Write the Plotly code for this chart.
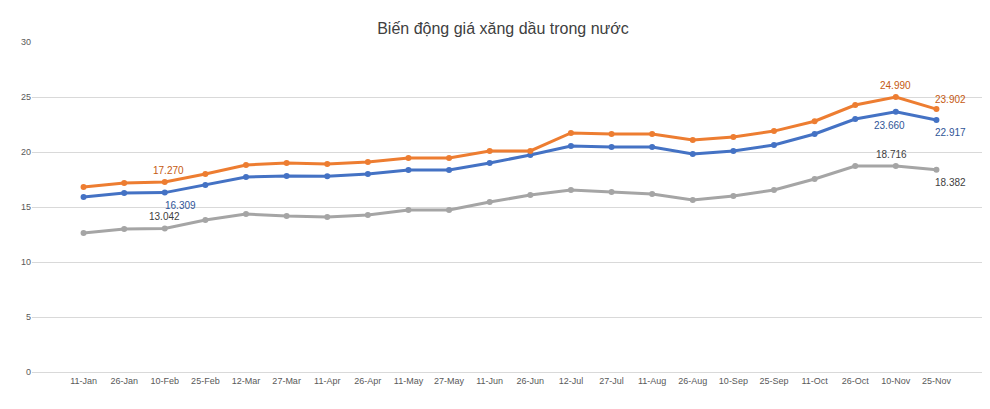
import plotly.graph_objects as go

dates = ["11-Jan", "26-Jan", "10-Feb", "25-Feb", "12-Mar", "27-Mar", "11-Apr", "26-Apr",
         "11-May", "27-May", "11-Jun", "26-Jun", "12-Jul", "27-Jul", "11-Aug", "26-Aug",
         "10-Sep", "25-Sep", "11-Oct", "26-Oct", "10-Nov", "25-Nov"]
e5ron92 = [15.90, 16.27, 16.309, 17.00, 17.73, 17.82, 17.80, 18.00, 18.36, 18.36, 19.00, 19.73,
           20.55, 20.45, 20.45, 19.82, 20.10, 20.64, 21.64, 23.00, 23.660, 22.917]
ron95 = [16.82, 17.18, 17.270, 18.00, 18.82, 19.00, 18.90, 19.10, 19.45, 19.45, 20.10, 20.10,
         21.73, 21.64, 21.64, 21.10, 21.36, 21.90, 22.80, 24.27, 24.990, 23.902]
diesel = [12.64, 13.00, 13.042, 13.82, 14.36, 14.18, 14.09, 14.27, 14.73, 14.73, 15.45, 16.09,
          16.55, 16.36, 16.18, 15.64, 16.00, 16.55, 17.55, 18.73, 18.716, 18.382]

# nhan so lieu: (series, index, xshift, yshift)
labels = [(e5ron92, 2, 16, -13, "#2F5597"), (ron95, 2, 4, 12, "#C55A11"), (diesel, 2, 0, 12, "#404040"),
          (e5ron92, 20, -6, -14, "#2F5597"), (ron95, 20, 0, 12, "#C55A11"), (diesel, 20, -4, 12, "#404040"),
          (e5ron92, 21, 14, -13, "#2F5597"), (ron95, 21, 14, 10, "#C55A11"), (diesel, 21, 14, -13, "#404040")]

fig = go.Figure()
for name, ys, col in [("E5RON92", e5ron92, "#4472C4"), ("RON95", ron95, "#ED7D31"), ("Diesel", diesel, "#A5A5A5")]:
    fig.add_trace(go.Scatter(x=dates, y=ys, name=name, mode="lines+markers",
                             line=dict(color=col, width=3), marker=dict(size=6, color=col)))

for ys, i, dx, dy, col in labels:
    fig.add_annotation(x=dates[i], y=ys[i], text="%.3f" % ys[i], showarrow=False,
                       xshift=dx, yshift=dy, font=dict(size=10, color=col))

fig.update_layout(
    title=dict(text="Biến động giá xăng dầu trong nước", x=0.5, y=0.965, font=dict(size=16, color="#404040")),
    width=990, height=409, plot_bgcolor="white", paper_bgcolor="white",
    font=dict(family="Liberation Sans, Arial", size=10, color="#595959"),
    margin=dict(l=24, r=10, t=34, b=45, autoexpand=False),
    xaxis=dict(showgrid=False, showline=True, linecolor="#D9D9D9", ticks="", tickfont=dict(size=9)),
    yaxis=dict(range=[0, 30], dtick=5, gridcolor="#D9D9D9", zeroline=False, tickfont=dict(size=9)),
    legend=dict(orientation="h", x=0.5, xanchor="center", y=-0.08, yanchor="top", font=dict(size=9)),
)
fig.write_html("out.html")
